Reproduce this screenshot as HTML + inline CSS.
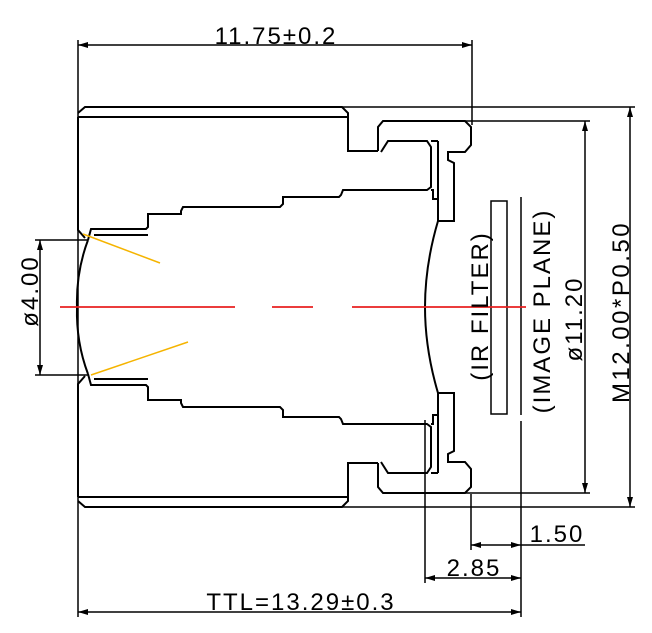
<!DOCTYPE html>
<html><head><meta charset="utf-8"><style>html,body{margin:0;padding:0;background:#fff}svg{display:block}text{font-family:"Liberation Sans",sans-serif;font-size:24px;letter-spacing:2px;fill:#000}</style></head><body>
<svg width="652" height="633" viewBox="0 0 652 633" xmlns="http://www.w3.org/2000/svg">
<defs>
<marker id="a" viewBox="0 0 10 6" refX="10" refY="3" markerWidth="10" markerHeight="6" orient="auto-start-reverse" markerUnits="userSpaceOnUse"><path d="M0,0L10,3L0,6z" fill="#000"/></marker>
<g id="half" fill="none" stroke="#000" stroke-width="2">
<polyline points="78,113 85,107 342,107 348,113 348,151 378,151"/>
<line x1="78" y1="117" x2="348" y2="117"/>
<polyline points="378,151 378,127 383,121 465,121 471,127 471,145 465,152 448,152 448,160 454,163 454,221 438,221"/>
<polyline points="381,152 388,141 427,141 431,147 431,187 427,190 343,190 341,195 339,197 283,197 283,204 280,207 183,207 181,211 181,214 148,214 148,227 146,229 91,229 88,240"/>
<polyline points="78,117 78,230 85,238"/>
<line x1="94" y1="235" x2="148" y2="235"/>
<line x1="438" y1="141" x2="438" y2="221"/>
<line x1="431" y1="141" x2="438" y2="141"/>
<polyline points="431,190 433,190 433,199 438,199"/>
<path d="M88,240 Q76,272 77,307"/>
<path d="M438,221 Q425,265 425,307"/>
</g>
</defs>
<use href="#half"/>
<use href="#half" transform="translate(0,614) scale(1,-1)"/>
<g fill="none" stroke="#000" stroke-width="1.5">
<line x1="342" y1="107" x2="635" y2="107"/>
<line x1="342" y1="507" x2="635" y2="507"/>
<line x1="78" y1="40" x2="78" y2="617"/>
<line x1="472" y1="40" x2="472" y2="125"/>
<line x1="78" y1="45" x2="472" y2="45" marker-start="url(#a)" marker-end="url(#a)"/>
<line x1="35" y1="240" x2="88" y2="240"/>
<line x1="35" y1="375" x2="88" y2="375"/>
<line x1="40" y1="240" x2="40" y2="375" marker-start="url(#a)" marker-end="url(#a)"/>
<line x1="465" y1="121" x2="590" y2="121"/>
<line x1="465" y1="493" x2="590" y2="493"/>
<line x1="585" y1="121" x2="585" y2="493" marker-start="url(#a)" marker-end="url(#a)"/>
<line x1="630" y1="107" x2="630" y2="507" marker-start="url(#a)" marker-end="url(#a)"/>
<rect x="491" y="201" width="16" height="213"/>
<line x1="521" y1="197" x2="521" y2="415"/>
<line x1="521" y1="421" x2="521" y2="617"/>
<line x1="471" y1="494" x2="471" y2="550"/>
<line x1="425" y1="420" x2="425" y2="583"/>
<line x1="471" y1="545" x2="521" y2="545" marker-start="url(#a)" marker-end="url(#a)"/>
<line x1="521" y1="545" x2="585" y2="545"/>
<line x1="425" y1="578" x2="521" y2="578" marker-start="url(#a)" marker-end="url(#a)"/>
<line x1="78" y1="612" x2="521" y2="612" marker-start="url(#a)" marker-end="url(#a)"/>
</g>
<g stroke="#e82020" stroke-width="1.8">
<line x1="60" y1="307" x2="235" y2="307"/>
<line x1="272" y1="307" x2="313" y2="307"/>
<line x1="352" y1="307" x2="526" y2="307"/>
</g>
<g stroke="#f5b400" stroke-width="1.5">
<line x1="83" y1="234" x2="160" y2="263"/>
<line x1="91" y1="375" x2="188" y2="342"/>
</g>
<text x="276" y="44" text-anchor="middle">11.75±0.2</text>
<text x="557" y="542" text-anchor="middle">1.50</text>
<text x="474" y="576" text-anchor="middle">2.85</text>
<text x="301" y="610" text-anchor="middle">TTL=13.29±0.3</text>
<text transform="translate(38,291) rotate(-90)" text-anchor="middle">ø4.00</text>
<text transform="translate(488,306) rotate(-90)" text-anchor="middle">(IR  FILTER)</text>
<text transform="translate(550,311) rotate(-90)" text-anchor="middle">(IMAGE  PLANE)</text>
<text transform="translate(582,319) rotate(-90)" text-anchor="middle">ø11.20</text>
<text transform="translate(629,312) rotate(-90)" text-anchor="middle" style="letter-spacing:2.5px">M12.00*P0.50</text>
</svg>
</body></html>
